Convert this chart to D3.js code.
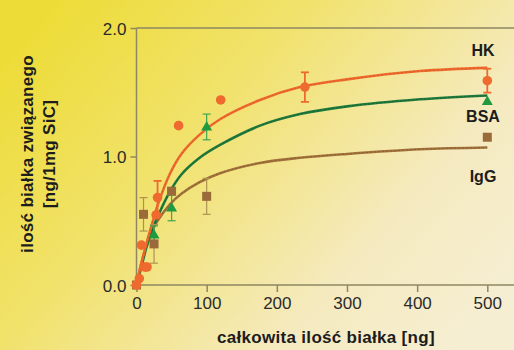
<!DOCTYPE html>
<html>
<head>
<meta charset="utf-8">
<script src="https://cdn.jsdelivr.net/npm/d3@7"></script>
<style>
  html, body { margin: 0; padding: 0; }
  body { width: 514px; height: 350px; overflow: hidden; }
  svg text { font-family: "Liberation Sans", Arial, sans-serif; }
</style>
</head>
<body>
<div id="chart"></div>
<script>
// data
const xTicks = [0, 100, 200, 300, 400, 500];
const yTicks = [0, 1, 2];

// HK (orange circles)
const hkX   = [0, 4, 7, 12, 15, 28, 30, 60, 120, 240, 500];
const hkY   = [0, 0.05, 0.31, 0.14, 0.14, 0.545, 0.68, 1.24, 1.44, 1.54, 1.59];
const hkErr = [0, 0, 0, 0, 0, 0, 0.13, 0, 0, 0.115, 0.093];
// BSA (green triangles)
const bsaX   = [25, 50, 100, 500];
const bsaY   = [0.39, 0.60, 1.23, 1.43];
const bsaErr = [0.07, 0.10, 0.10, 0];
// IgG (brown squares)
const iggX   = [0, 10, 25, 50, 100, 500];
const iggY   = [0, 0.55, 0.32, 0.73, 0.69, 1.15];
const iggErr = [0, 0.13, 0.15, 0, 0.14, 0];

// fitted curves
const fitX    = [0, 7, 14, 24, 30, 48, 64, 90, 119, 176, 233, 300, 404, 500];
const hkFit   = [0, 0.17, 0.32, 0.51, 0.62, 0.87, 1.02, 1.17, 1.29, 1.44, 1.54, 1.60, 1.665, 1.69];
const bsaFit  = [0, 0.14, 0.29, 0.45, 0.53, 0.73, 0.86, 0.99, 1.09, 1.24, 1.33, 1.39, 1.445, 1.475];
const iggFit  = [0, 0.17, 0.30, 0.44, 0.50, 0.63, 0.71, 0.80, 0.87, 0.95, 0.99, 1.02, 1.056, 1.07];

const W = 514, H = 350;
const margin = { top: 28, right: 26.7, bottom: 65, left: 136.5 };

const svg = d3.select('#chart').append('svg')
  .attr('width', W)
  .attr('height', H);

// background gradient
const defs = svg.append('defs');
const grad = defs.append('linearGradient')
  .attr('id', 'bg')
  .attr('x1', '0').attr('y1', '0.2')
  .attr('x2', '1').attr('y2', '0.8');
grad.append('stop').attr('offset', '0').attr('stop-color', '#eddc38');
grad.append('stop').attr('offset', '0.35').attr('stop-color', '#f1e26c');
grad.append('stop').attr('offset', '0.75').attr('stop-color', '#f5eabf');
grad.append('stop').attr('offset', '1').attr('stop-color', '#f6eed2');
svg.append('rect').attr('width', W).attr('height', H).attr('fill', 'url(#bg)');

const x = d3.scaleLinear().domain([0, 500]).range([margin.left, W - margin.right]);
const y = d3.scaleLinear().domain([0, 2]).range([H - margin.bottom, margin.top]);

const axisColor = '#8e8762';

// frame lines: left, bottom and top (bottom and top run to the edge)
svg.append('line')
  .attr('x1', x(0)).attr('x2', x(0))
  .attr('y1', y(2)).attr('y2', y(0))
  .attr('stroke', axisColor).attr('stroke-width', 1.5);
svg.append('line')
  .attr('x1', x(0)).attr('x2', W)
  .attr('y1', y(0)).attr('y2', y(0))
  .attr('stroke', axisColor).attr('stroke-width', 1.5);
svg.append('line')
  .attr('x1', x(0)).attr('x2', W)
  .attr('y1', y(2)).attr('y2', y(2))
  .attr('stroke', axisColor).attr('stroke-width', 1.5);

// axes
const gx = svg.append('g')
  .attr('transform', `translate(0, ${y(0)})`)
  .call(d3.axisBottom(x).tickValues(xTicks).tickSize(7).tickPadding(5));
const gy = svg.append('g')
  .attr('transform', `translate(${x(0)}, 0)`)
  .call(d3.axisLeft(y).tickValues(yTicks).tickFormat(d3.format('.1f')).tickSize(6).tickPadding(4));

[gx, gy].forEach(g => {
  g.select('.domain').remove();
  g.selectAll('.tick line').attr('stroke', axisColor).attr('stroke-width', 1.5);
  g.selectAll('.tick text')
    .attr('fill', '#2a2a2a')
    .style('font-size', '17px')
    .style('font-family', '"Liberation Sans", Arial, sans-serif');
});
gy.selectAll('.tick text').attr('dy', '0.36em');

// fit curves
const line = d3.line()
  .x(d => x(d[0]))
  .y(d => y(d[1]))
  .curve(d3.curveCatmullRom.alpha(0.5));

const curves = [
  { v: iggFit, color: '#a3733c', dark: '#6e4a22' },
  { v: bsaFit, color: '#1f7a3c', dark: '#124d25' },
  { v: hkFit,  color: '#ee6a2e', dark: '#c44e1c' }
];
curves.forEach(c => {
  const pts = fitX.map((d, i) => [d, c.v[i]]);
  svg.append('path')
    .datum(pts)
    .attr('fill', 'none')
    .attr('stroke', c.color)
    .attr('stroke-width', 2.6)
    .attr('d', line);
  svg.append('path')
    .datum(pts)
    .attr('fill', 'none')
    .attr('stroke', c.dark)
    .attr('stroke-width', 0.8)
    .attr('stroke-dasharray', '2,2')
    .attr('opacity', 0.6)
    .attr('d', line);
});

// error bars
function errorBars(xs, ys, errs, color, width) {
  const g = svg.append('g').attr('stroke', color).attr('stroke-width', width);
  xs.forEach((d, i) => {
    if (!errs[i]) return;
    const cx = x(d), top = y(ys[i] + errs[i]), bot = y(ys[i] - errs[i]);
    g.append('line').attr('x1', cx).attr('x2', cx).attr('y1', top).attr('y2', bot);
    g.append('line').attr('x1', cx - 4).attr('x2', cx + 4).attr('y1', top).attr('y2', top);
    g.append('line').attr('x1', cx - 4).attr('x2', cx + 4).attr('y1', bot).attr('y2', bot);
  });
}
errorBars(iggX, iggY, iggErr, '#ad9350', 1.2);
errorBars(bsaX, bsaY, bsaErr, '#3ea652', 1.2);
errorBars(hkX, hkY, hkErr, '#ec6a2e', 1.8);

// markers
svg.append('g').selectAll('rect')
  .data(iggX)
  .join('rect')
  .attr('x', d => x(d) - 4.5)
  .attr('y', (d, i) => y(iggY[i]) - 4.5)
  .attr('width', 9).attr('height', 9)
  .attr('fill', '#9a6a3a');

const tri = d3.symbol().type(d3.symbolTriangle).size(52);
svg.append('g').selectAll('path')
  .data(bsaX)
  .join('path')
  .attr('transform', (d, i) => `translate(${x(d)}, ${y(bsaY[i]) + 0.5})`)
  .attr('d', tri)
  .attr('fill', '#1f9a40');

svg.append('g').selectAll('circle')
  .data(hkX)
  .join('circle')
  .attr('cx', d => x(d))
  .attr('cy', (d, i) => y(hkY[i]))
  .attr('r', 4.8)
  .attr('fill', '#ee6a2e');

// series labels
const labels = [
  { t: 'HK',  v: 1.78 },
  { t: 'BSA', v: 1.27 },
  { t: 'IgG', v: 0.80 }
];
svg.append('g').selectAll('text')
  .data(labels)
  .join('text')
  .attr('x', 483)
  .attr('y', d => y(d.v))
  .attr('text-anchor', 'middle')
  .attr('fill', '#1c1c1c')
  .style('font-size', '16px')
  .style('font-weight', 'bold')
  .text(d => d.t);

// axis titles
svg.append('text')
  .attr('x', 326)
  .attr('y', 343)
  .attr('text-anchor', 'middle')
  .attr('fill', '#1c1c1c')
  .style('font-size', '17px')
  .style('font-weight', 'bold')
  .style('letter-spacing', '0.3px')
  .text('całkowita ilość białka [ng]');

const yTitle = svg.append('text')
  .attr('transform', 'translate(0, 154) rotate(-90)')
  .attr('text-anchor', 'middle')
  .attr('fill', '#1c1c1c')
  .style('font-size', '17px')
  .style('font-weight', 'bold')
  .style('letter-spacing', '0.3px');
yTitle.append('tspan').attr('x', 0).attr('y', 33).text('ilość białka związanego');
yTitle.append('tspan').attr('x', 0).attr('y', 55).text('[ng/1mg SiC]');
</script>
</body>
</html>
